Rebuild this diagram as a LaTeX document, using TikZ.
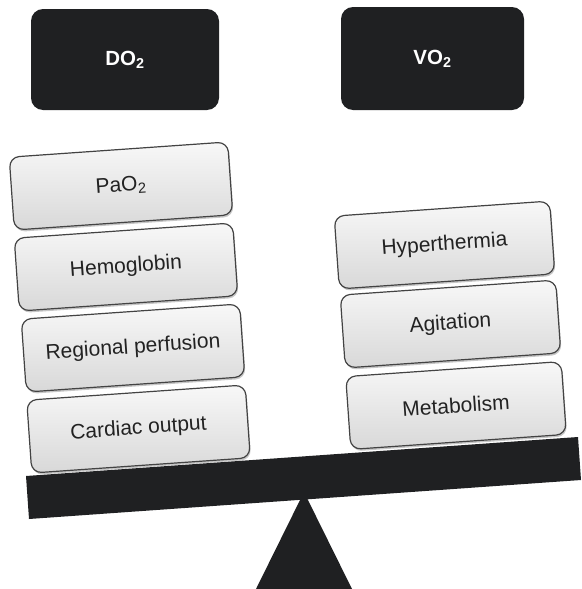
\documentclass[tikz,border=0pt]{standalone}
\usepackage{fontspec}
\setmainfont{Liberation Sans}
\usetikzlibrary{shadows}
\definecolor{ink}{HTML}{1F2022}
\definecolor{cardtop}{HTML}{F8F8F8}
\definecolor{cardbot}{HTML}{D8D8D8}
\definecolor{cardline}{HTML}{434343}
\definecolor{cardtext}{HTML}{222222}
\begin{document}
\begin{tikzpicture}[x=1pt,y=-1pt,
  card/.style={rounded corners=10pt, draw=cardline, line width=1.2pt,
    top color=cardtop, bottom color=cardbot,
    minimum height=73pt, inner sep=0pt,
    font=\fontsize{21}{25}\selectfont, text=cardtext, rotate=4,
    drop shadow={shadow xshift=1pt, shadow yshift=-2pt, opacity=0.22, fill=black}},
  leftcard/.style={card, minimum width=219pt},
  rightcard/.style={card, minimum width=216pt},
  head/.style={rounded corners=12pt, fill=ink, text=white, inner sep=0pt,
    font=\fontsize{20.5}{24}\selectfont\bfseries}]
\useasboundingbox (0,0) rectangle (581,589);

% header boxes
\node[head, minimum width=188pt, minimum height=101pt] (do2) at (125,59.5) {DO\textsubscript{2}};
\node[head, minimum width=183pt, minimum height=103pt] (vo2) at (432.5,58.5) {VO\textsubscript{2}};

% left stack
\node[leftcard] (pao2) at (121,186) {PaO\textsubscript{2}};
\node[leftcard] (hb)   at (126,267) {Hemoglobin};
\node[leftcard] (reg)  at (133,348) {Regional perfusion};
\node[leftcard] (co)   at (138.5,429) {Cardiac output};

% right stack
\node[rightcard] (hyp) at (444.5,245) {Hyperthermia};
\node[rightcard] (agi) at (450.5,324) {Agitation};
\node[rightcard] (met) at (456,405.5) {Metabolism};

% beam and fulcrum
\fill[ink] (256,589) -- (304,492) -- (352,589) -- cycle;
\fill[ink] (26,476) -- (578,437) -- (581,480) -- (29,519) -- cycle;
\end{tikzpicture}
\end{document}
